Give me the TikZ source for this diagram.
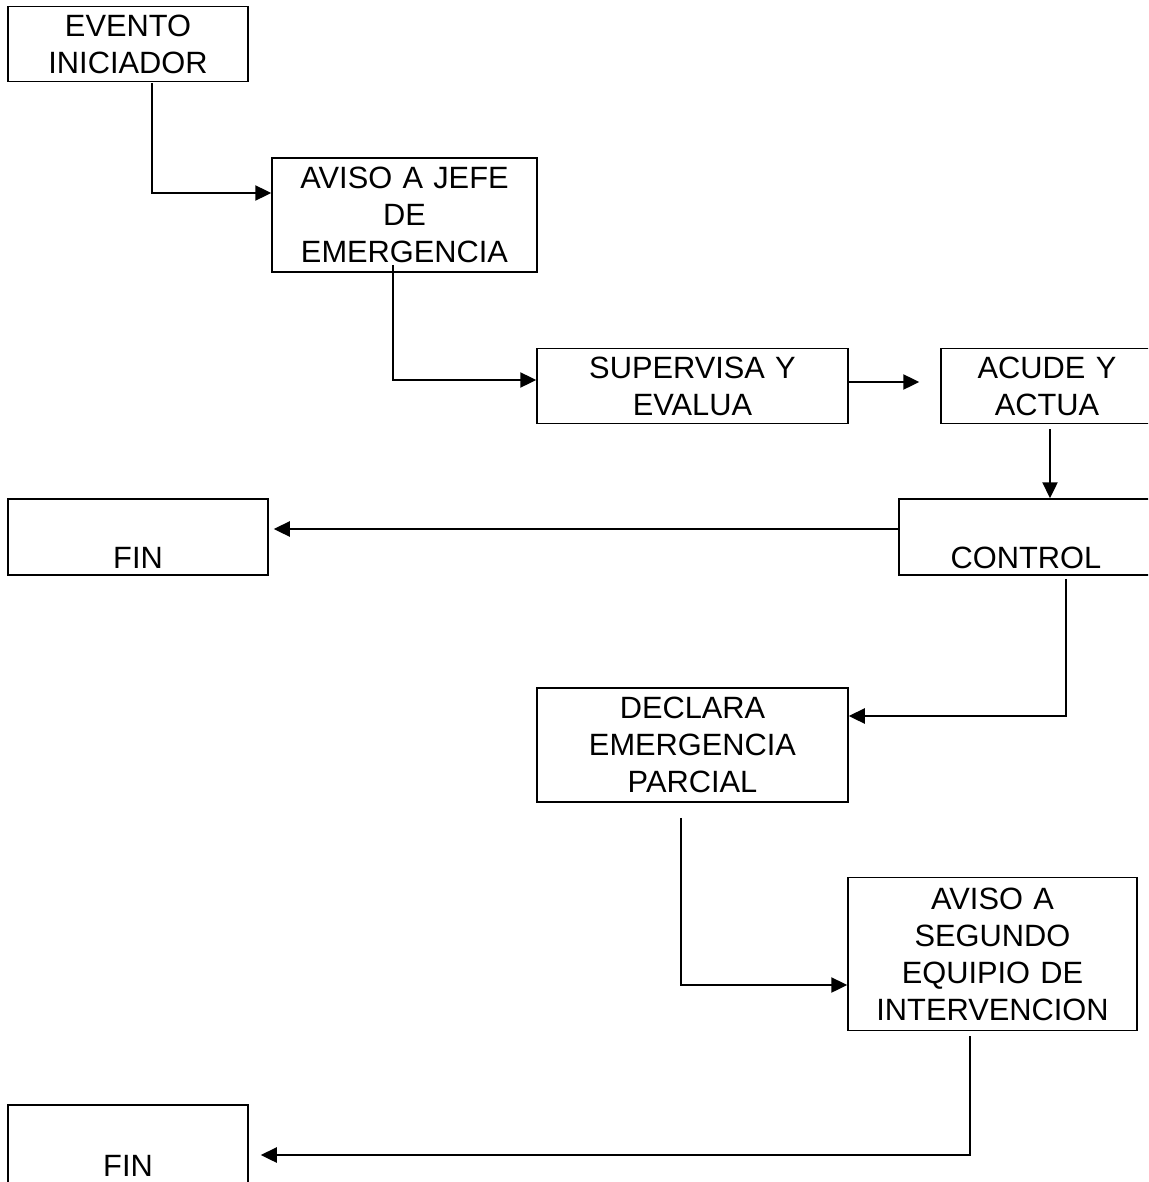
\documentclass[tikz,border=0pt]{standalone}
\usepackage{fontspec}
\setmainfont{Liberation Sans}
\usetikzlibrary{arrows.meta}

\begin{document}
\begin{tikzpicture}[x=0.5pt, y=-0.5pt]

    \tikzset{block/.style={%
      draw,%
      rectangle,%
      line width=0.75pt,%
      inner sep=0pt,%
      align=center,%
      font=\fontsize{15.4pt}{18.5pt}\selectfont}%
    };

    \tikzset{conn/.style={line width=1.2pt, -{Triangle[length=8pt, width=7.5pt]}}};

    \clip (0, 0) rectangle (1148, 1182);

    %%%%%%%%%%%%%%%
    %   blocks    %
    %%%%%%%%%%%%%%%
    \node [block, text width=120pt, minimum height=37.5pt] (ini) at (128, 44) {EVENTO\\INICIADOR};
    \node [block, text width=132.5pt, minimum height=57pt] (jefe) at (404.5, 215) {AVISO A JEFE\\DE\\EMERGENCIA};
    \node [block, text width=155.5pt, minimum height=37.5pt] (sup) at (692.5, 386) {SUPERVISA Y\\EVALUA};
    \node [block, text width=106pt, minimum height=37.5pt] (acu) at (1047, 386) {ACUDE Y\\ACTUA};
    \node [block, text width=130pt, minimum height=38pt] (fina) at (138, 537) {\strut\\FIN};
    \node [block, text width=127pt, minimum height=38pt] (ctl) at (1026, 537) {\strut\\CONTROL};
    \node [block, text width=155.5pt, minimum height=57pt] (dec) at (692.5, 745) {DECLARA\\EMERGENCIA\\PARCIAL};
    \node [block, text width=144.5pt, minimum height=76.5pt] (seg) at (992.5, 954) {AVISO A\\SEGUNDO\\EQUIPIO DE\\INTERVENCION};
    \node [block, text width=120pt, minimum height=40pt] (finb) at (128, 1145) {\strut\\FIN};

    %%%%%%%%%%%%%%%
    %  connectors %
    %%%%%%%%%%%%%%%
    \draw [conn, shorten <=1.5pt] ([xshift=12pt, yshift=1pt]ini.south) |- ([yshift=11pt]jefe.west);
    \draw [conn] ([xshift=-5.75pt, yshift=4pt]jefe.south) |- ([yshift=3pt]sup.west);
    \draw [conn, shorten >=10.5pt] ([yshift=2pt]sup.east) -- ([yshift=2pt]acu.west);
    \draw [conn, shorten <=3.5pt] ([xshift=1.5pt, yshift=1pt]acu.south) -- ([xshift=1.5pt]acu.south |- ctl.north);
    \draw [conn, shorten >=2.5pt] ([yshift=4pt]ctl.west) -- ([yshift=4pt]ctl.west -| fina.east);
    \draw [conn, shorten <=2.5pt] ([xshift=20pt, yshift=1pt]ctl.south) |- ([yshift=14.5pt]dec.east);
    \draw [conn, shorten <=8.5pt] ([xshift=-5.75pt, yshift=1pt]dec.south) |- ([yshift=-15.5pt]seg.west);
    \draw [conn, shorten <=3.5pt, shorten >=6pt] ([xshift=-11.25pt, yshift=1pt]seg.south) |- ([yshift=-5pt]finb.east);

  \end{tikzpicture}
\end{document}
